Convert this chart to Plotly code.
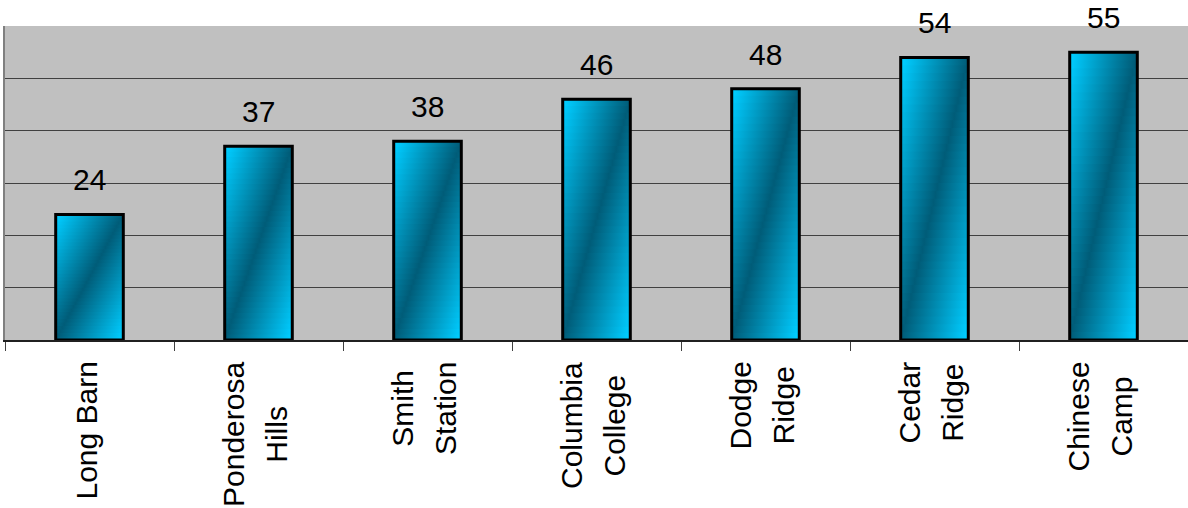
import plotly.graph_objects as go

# ---------------- data ----------------
categories = ["Long Barn", "Ponderosa Hills", "Smith Station", "Columbia College",
              "Dodge Ridge", "Cedar Ridge", "Chinese Camp"]
label_lines = [["Long Barn"], ["Ponderosa", "Hills"], ["Smith", "Station"],
               ["Columbia", "College"], ["Dodge", "Ridge"], ["Cedar", "Ridge"],
               ["Chinese", "Camp"]]
values = [24, 37, 38, 46, 48, 54, 55]
y_max = 60
y_step = 10

# ---------------- style ----------------
BAR_W = 0.40
N_SLICES = 36
BRIGHT = (0, 204, 255)
DARK = (0, 92, 120)
GAIN = 1.05
FONT = "Liberation Sans, Arial, sans-serif"
FS = 30


def mix(t):
    t = max(0.0, min(1.0, t))
    return "rgb(%d,%d,%d)" % tuple(round(d + (b - d) * t) for d, b in zip(DARK, BRIGHT))


def slice_scale(vc):
    us = sorted(set([0.0, max(0.0, vc - 1 / GAIN), vc, min(1.0, vc + 1 / GAIN), 1.0]))
    return [[u, mix(abs(u - vc) * GAIN)] for u in us]


pos = list(range(len(categories)))
fig = go.Figure()

# gradient-filled bar bodies, built in horizontal slices from the data values
for xi, v in zip(pos, values):
    xl, xr = xi - BAR_W / 2, xi + BAR_W / 2
    dv = v / N_SLICES
    for k in range(N_SLICES):
        y0 = k * dv
        y1 = (k + 1) * dv + (0.35 * dv if k < N_SLICES - 1 else 0)
        vc = (k + 0.5) / N_SLICES
        fig.add_trace(go.Scatter(
            x=[xl, xr, xr, xl, xl], y=[y0, y0, y1, y1, y0],
            mode="lines", line=dict(width=0, color="rgba(0,0,0,0)"),
            fill="toself",
            fillgradient=dict(type="horizontal", colorscale=slice_scale(vc)),
            hoverinfo="skip", showlegend=False,
        ))

# bar outlines on an overlaying subplot so they sit above the fills
fig.add_trace(go.Bar(
    x=pos, y=values, width=BAR_W, xaxis="x2", yaxis="y2",
    marker=dict(color="rgba(0,0,0,0)", line=dict(color="black", width=3)),
    showlegend=False, hoverinfo="skip",
))

annotations = []
# value labels
for xi, v in zip(pos, values):
    annotations.append(dict(
        x=xi, y=v, xref="x", yref="y", text=str(v), showarrow=False,
        yanchor="bottom", xanchor="center", yshift=16,
        font=dict(family=FONT, size=FS, color="black"),
    ))

# category labels (rotated, centered lines)
HIDE = "<span style='color:rgba(0,0,0,0)'>%s</span>"
LBL_SHIFT = -4
for xi, lines in zip(pos, label_lines):
    common = dict(x=xi, y=0, xref="x", yref="y", showarrow=False, textangle=-90,
                  yanchor="top", xanchor="center", yshift=-20, align="center",
                  font=dict(family=FONT, size=FS, color="black"))
    if len(lines) == 1:
        annotations.append(dict(text=lines[0], xshift=LBL_SHIFT, **common))
    else:
        l1, l2 = lines
        annotations.append(dict(text=l1 + "<br>" + HIDE % l2, xshift=LBL_SHIFT - 2, **common))
        annotations.append(dict(text=HIDE % l1 + "<br>" + l2, xshift=LBL_SHIFT + 2, **common))

xr_ = [-0.5, len(categories) - 0.5]
fig.update_layout(
    width=1188, height=508,
    margin=dict(l=5, r=0, t=26, b=168, pad=0),
    paper_bgcolor="white", plot_bgcolor="#C0C0C0",
    showlegend=False,
    font=dict(family=FONT, size=FS, color="black"),
    xaxis=dict(range=xr_, tickvals=[i - 0.5 for i in range(len(categories) + 1)],
               ticks="outside", ticklen=9, tickwidth=1, tickcolor="#404040",
               showticklabels=False, showgrid=False, zeroline=False,
               showline=True, linecolor="#202020", linewidth=2, fixedrange=True),
    yaxis=dict(range=[0, y_max], tick0=0, dtick=y_step, showticklabels=False,
               ticks="", showgrid=True, gridcolor="#404040", gridwidth=1,
               zeroline=False, showline=True, linecolor="#808080", linewidth=2,
               fixedrange=True),
    xaxis2=dict(range=xr_, overlaying="x", visible=False, fixedrange=True),
    yaxis2=dict(range=[0, y_max], overlaying="y", visible=False, fixedrange=True),
    annotations=annotations,
)

fig.write_html("out.html")
